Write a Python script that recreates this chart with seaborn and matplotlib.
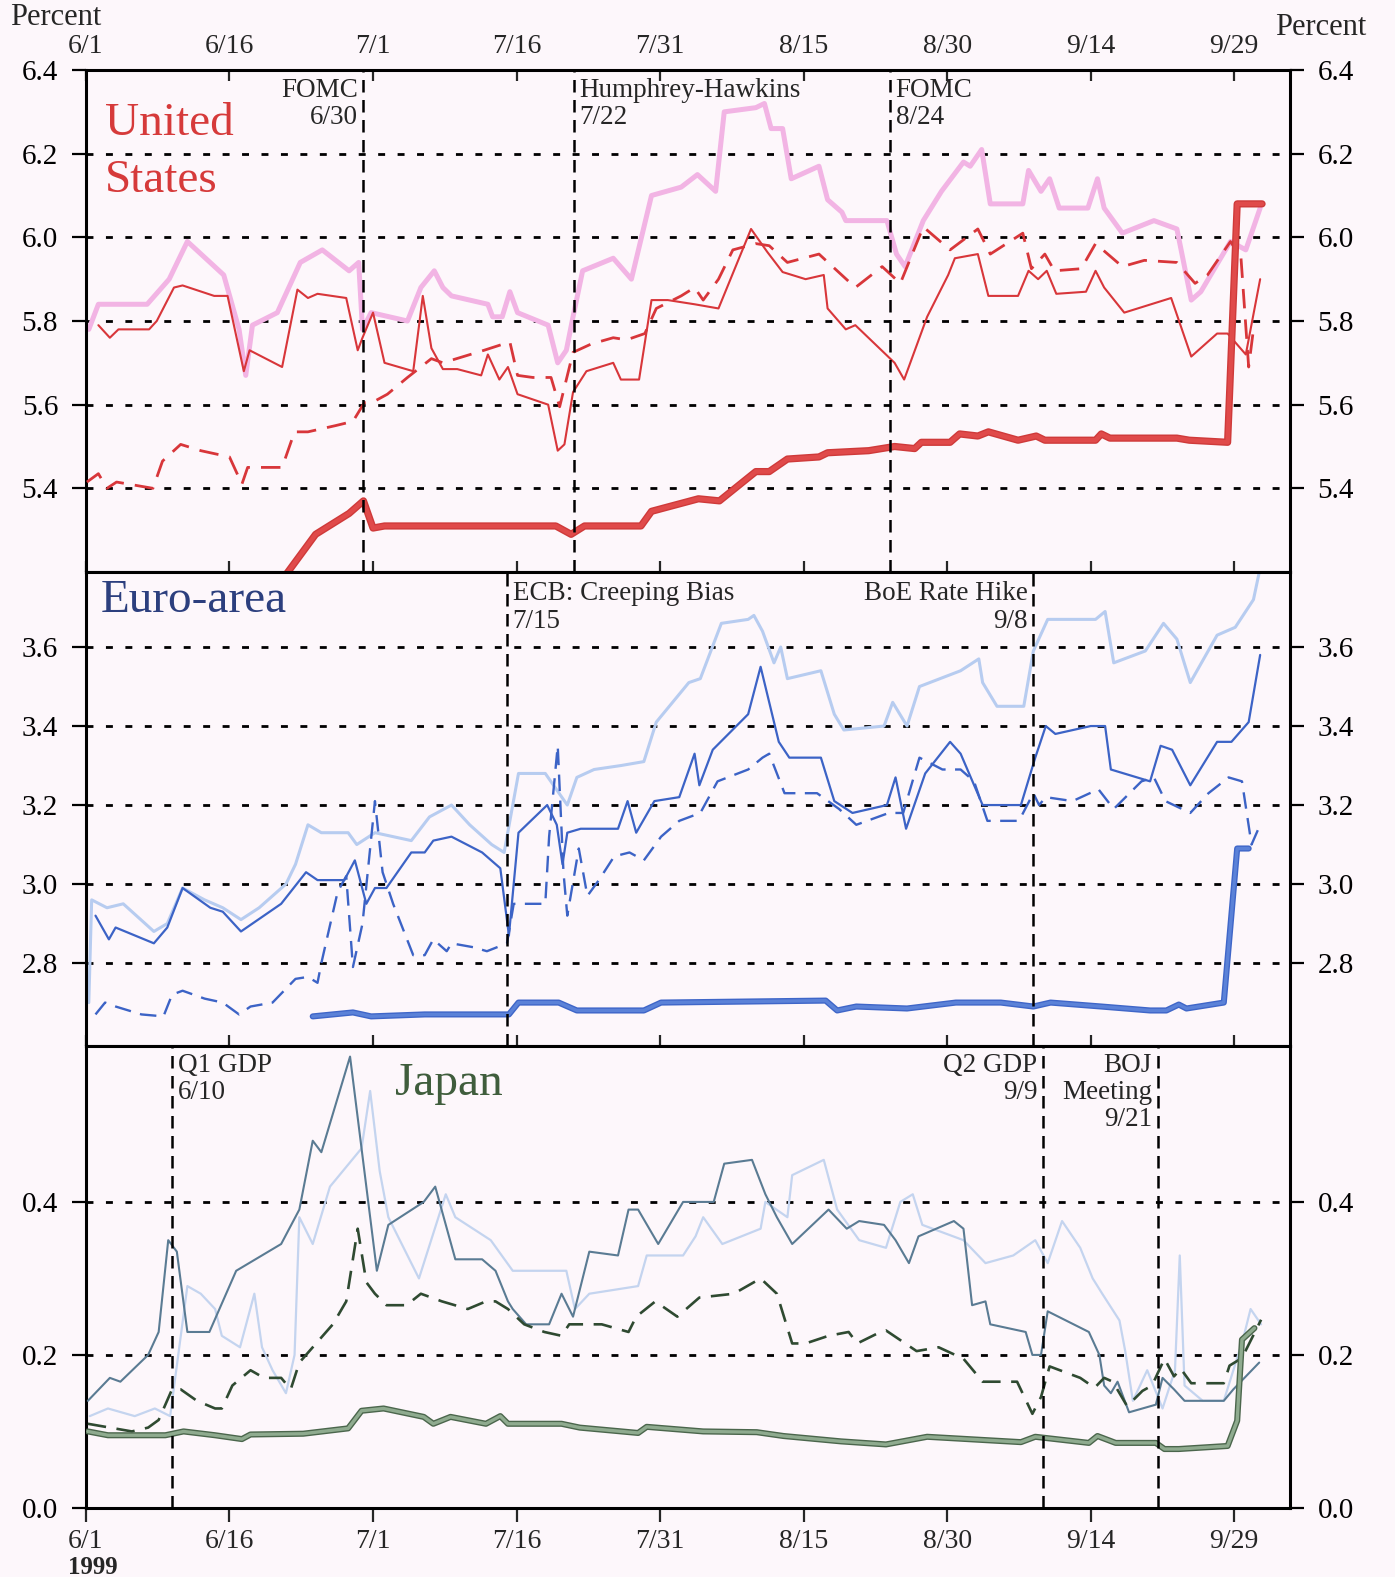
import pandas as pd
import seaborn as sns
import matplotlib.pyplot as plt
import matplotlib.patheffects as pe
from matplotlib.ticker import FormatStrFormatter

# x values are days after June 1, 1999
date_ticks = [0, 15, 30, 45, 60, 75, 90, 105, 120]
date_labels = ['6/1', '6/16', '7/1', '7/16', '7/31', '8/15', '8/30', '9/14', '9/29']

# ---- United States ----
us_pink_day = [0.3, 1.3, 6.4, 8.7, 10.6, 12.5, 14.4, 16.0, 16.7, 17.4, 20.0, 21.6, 22.4, 24.7, 27.5,
               28.5, 28.9, 29.8, 33.6, 35.0, 36.4, 37.3, 38.2, 42.0, 42.5, 43.5, 44.3, 45.1, 48.3, 49.3,
               50.2, 50.9, 51.9, 55.1, 57.0, 59.1, 62.2, 63.9, 65.8, 66.7, 70.0, 70.9, 71.6, 72.8, 73.7,
               76.6, 77.5, 79.0, 79.4, 83.7, 84.7, 85.6, 87.5, 89.4, 91.7, 92.4, 93.6, 94.5, 97.9, 98.5,
               99.8, 100.7, 101.7, 104.7, 105.7, 106.4, 108.3, 111.6, 114.0, 115.5, 116.5, 119.6, 121.2, 122.7]
us_pink = [5.78, 5.84, 5.84, 5.90, 5.99, 5.95, 5.91, 5.78, 5.67, 5.79, 5.82, 5.90, 5.94, 5.97, 5.92,
           5.94, 5.78, 5.82, 5.80, 5.88, 5.92, 5.88, 5.86, 5.84, 5.81, 5.81, 5.87, 5.82, 5.79, 5.70,
           5.73, 5.81, 5.92, 5.95, 5.90, 6.10, 6.12, 6.15, 6.11, 6.30, 6.31, 6.32, 6.26, 6.26, 6.14,
           6.17, 6.09, 6.06, 6.04, 6.04, 5.96, 5.93, 6.04, 6.11, 6.18, 6.17, 6.21, 6.08, 6.08, 6.16,
           6.11, 6.14, 6.07, 6.07, 6.14, 6.07, 6.01, 6.04, 6.02, 5.85, 5.87, 5.99, 5.97, 6.07]

us_solid_day = [1.3, 2.5, 3.4, 6.6, 7.4, 9.2, 10.1, 13.4, 14.8, 16.5, 17.1, 20.5, 22.1, 23.2, 24.2,
                27.2, 28.4, 28.9, 30.0, 31.2, 34.2, 35.2, 36.1, 37.3, 38.8, 41.3, 42.0, 43.2, 44.1, 45.1,
                48.3, 49.3, 50.0, 50.9, 52.3, 55.1, 55.9, 57.8, 59.1, 60.8, 63.6, 66.1, 69.5, 71.2, 72.8,
                75.2, 77.1, 77.5, 79.4, 80.4, 84.5, 85.5, 87.9, 90.1, 90.8, 93.2, 94.3, 97.4, 98.5, 99.5,
                100.4, 101.4, 104.5, 105.5, 106.4, 108.5, 113.4, 115.5, 118.2, 119.3, 121.2, 122.7]
us_solid = [5.79, 5.76, 5.78, 5.78, 5.80, 5.88, 5.885, 5.86, 5.86, 5.68, 5.73, 5.69, 5.875, 5.855, 5.865,
            5.855, 5.73, 5.76, 5.82, 5.70, 5.68, 5.86, 5.735, 5.685, 5.685, 5.67, 5.72, 5.66, 5.69, 5.625,
            5.60, 5.49, 5.505, 5.63, 5.68, 5.70, 5.66, 5.66, 5.85, 5.85, 5.84, 5.83, 6.02, 5.965, 5.917,
            5.90, 5.91, 5.83, 5.78, 5.79, 5.70, 5.66, 5.81, 5.91, 5.95, 5.96, 5.86, 5.86, 5.92, 5.90,
            5.92, 5.865, 5.87, 5.92, 5.88, 5.82, 5.855, 5.715, 5.77, 5.77, 5.72, 5.90]

us_dash_day = [0.1, 1.3, 2.2, 3.2, 7.0, 8.0, 9.9, 12.0, 15.0, 16.3, 16.9, 20.5, 21.8, 23.2, 26.1,
               27.9, 29.1, 30.3, 31.5, 33.6, 36.1, 37.3, 41.6, 44.3, 45.1, 46.7, 48.6, 49.5, 50.9, 52.8,
               55.1, 56.5, 58.4, 59.6, 62.2, 63.6, 64.5, 66.1, 67.6, 70.0, 71.4, 73.3, 76.6, 78.5, 80.4,
               83.2, 85.1, 87.5, 90.3, 93.2, 94.5, 97.9, 98.8, 100.2, 101.2, 104.0, 105.5, 108.3, 110.6, 114.0,
               115.9, 117.2, 119.6, 120.7, 121.5, 122.0]
us_dash = [5.415, 5.435, 5.40, 5.415, 5.40, 5.465, 5.505, 5.49, 5.475, 5.41, 5.45, 5.45, 5.535, 5.535, 5.55,
           5.56, 5.605, 5.61, 5.625, 5.665, 5.71, 5.70, 5.73, 5.75, 5.67, 5.665, 5.665, 5.595, 5.725, 5.745,
           5.76, 5.755, 5.77, 5.83, 5.86, 5.88, 5.85, 5.90, 5.97, 5.985, 5.98, 5.94, 5.96, 5.92, 5.88,
           5.93, 5.89, 6.025, 5.97, 6.02, 5.96, 6.01, 5.925, 5.96, 5.92, 5.925, 5.985, 5.93, 5.945, 5.94,
           5.89, 5.91, 5.99, 5.95, 5.69, 5.78]

us_thick_day = [19.5, 24.0, 27.5, 29.0, 30.0, 31.2, 49.1, 50.7, 52.1, 58.0, 59.1, 64.0, 66.2, 70.0, 71.4,
                73.3, 76.6, 77.5, 81.8, 84.5, 86.6, 87.3, 90.3, 91.3, 93.2, 94.3, 97.4, 99.3, 100.2, 105.5,
                106.1, 107.0, 114.0, 115.3, 119.3, 120.3, 122.9]
us_thick = [5.15, 5.29, 5.34, 5.37, 5.305, 5.31, 5.31, 5.29, 5.31, 5.31, 5.345, 5.375, 5.37, 5.44, 5.44,
            5.47, 5.475, 5.485, 5.49, 5.50, 5.495, 5.51, 5.51, 5.53, 5.525, 5.535, 5.515, 5.525, 5.515, 5.515,
            5.53, 5.52, 5.52, 5.515, 5.51, 6.08, 6.08]

# ---- Euro-area ----
eu_light_day = [0.3, 0.6, 2.2, 3.9, 7.1, 8.5, 10.1, 12.4, 14.3, 16.2, 18.1, 20.9, 21.9, 23.2, 24.6,
                27.4, 28.3, 30.2, 34.0, 35.9, 38.2, 40.1, 42.4, 43.7, 45.2, 48.0, 50.3, 51.3, 53.1, 55.9,
                58.3, 59.6, 63.0, 64.2, 66.4, 69.2, 69.8, 70.7, 71.9, 72.6, 73.3, 76.8, 78.2, 79.2, 83.4,
                84.3, 85.8, 87.1, 91.4, 93.3, 93.7, 95.2, 98.0, 99.0, 100.5, 105.5, 106.5, 107.4, 110.7, 112.6,
                114.0, 115.4, 118.2, 120.1, 122.0, 122.7]
eu_light = [2.70, 2.96, 2.94, 2.95, 2.88, 2.90, 2.99, 2.96, 2.94, 2.91, 2.94, 3.00, 3.05, 3.15, 3.13,
            3.13, 3.10, 3.13, 3.11, 3.17, 3.20, 3.15, 3.10, 3.08, 3.28, 3.28, 3.20, 3.27, 3.29, 3.30,
            3.31, 3.41, 3.51, 3.52, 3.66, 3.67, 3.68, 3.64, 3.56, 3.60, 3.52, 3.54, 3.43, 3.39, 3.40,
            3.46, 3.40, 3.50, 3.54, 3.57, 3.51, 3.45, 3.45, 3.59, 3.67, 3.67, 3.69, 3.56, 3.59, 3.66,
            3.62, 3.51, 3.63, 3.65, 3.72, 3.80]

eu_solid_day = [1.0, 2.4, 3.1, 7.1, 8.5, 10.1, 13.0, 14.3, 16.2, 20.4, 23.0, 24.2, 27.0, 28.1, 29.3,
                30.2, 31.4, 34.0, 35.4, 36.3, 38.2, 41.4, 43.3, 44.2, 45.2, 48.2, 49.2, 49.8, 50.3, 51.7,
                55.6, 56.6, 57.5, 59.4, 62.0, 63.6, 64.1, 65.5, 69.2, 70.5, 72.4, 73.5, 76.8, 78.2, 80.1,
                83.7, 84.6, 85.7, 87.7, 90.3, 91.4, 93.7, 97.7, 99.2, 100.3, 101.3, 105.0, 106.5, 107.1, 111.2,
                112.3, 113.5, 115.4, 118.2, 119.7, 121.5, 122.7]
eu_solid = [2.92, 2.86, 2.89, 2.85, 2.89, 2.99, 2.94, 2.93, 2.88, 2.95, 3.03, 3.01, 3.01, 3.06, 2.95,
            2.99, 2.99, 3.08, 3.08, 3.11, 3.12, 3.08, 3.04, 2.87, 3.13, 3.20, 3.15, 3.05, 3.13, 3.14,
            3.14, 3.21, 3.13, 3.21, 3.22, 3.33, 3.25, 3.34, 3.43, 3.55, 3.36, 3.32, 3.32, 3.21, 3.18,
            3.20, 3.27, 3.14, 3.28, 3.36, 3.33, 3.20, 3.20, 3.32, 3.40, 3.38, 3.40, 3.40, 3.29, 3.26,
            3.35, 3.34, 3.25, 3.36, 3.36, 3.41, 3.58]

eu_dash_day = [1.0, 2.0, 3.1, 5.8, 8.1, 9.0, 10.1, 12.4, 14.3, 16.0, 17.2, 19.5, 21.9, 23.2, 24.2,
               24.6, 26.3, 27.2, 27.9, 28.9, 30.2, 31.0, 32.1, 34.2, 35.4, 36.3, 37.7, 38.2, 40.5, 41.9,
               44.0, 44.7, 48.0, 48.4, 49.3, 49.9, 50.3, 51.5, 52.4, 53.6, 55.2, 56.8, 58.3, 60.1, 62.0,
               64.2, 66.0, 69.2, 70.7, 71.4, 73.0, 76.4, 78.7, 80.5, 83.9, 85.4, 87.1, 89.5, 91.4, 92.8,
               94.2, 97.5, 99.0, 99.6, 100.3, 103.1, 105.8, 107.4, 110.3, 111.6, 112.8, 115.4, 117.3, 119.4, 120.8,
               121.8, 122.7]
eu_dash = [2.67, 2.70, 2.69, 2.67, 2.665, 2.72, 2.73, 2.71, 2.70, 2.67, 2.69, 2.70, 2.76, 2.765, 2.75,
           2.80, 2.98, 3.02, 2.79, 2.90, 3.21, 3.03, 2.95, 2.82, 2.82, 2.86, 2.83, 2.85, 2.84, 2.83,
           2.85, 2.95, 2.95, 3.12, 3.35, 3.03, 2.92, 3.09, 2.97, 3.01, 3.07, 3.08, 3.06, 3.12, 3.16,
           3.18, 3.26, 3.29, 3.32, 3.33, 3.23, 3.23, 3.19, 3.15, 3.18, 3.18, 3.32, 3.29, 3.29, 3.26,
           3.16, 3.16, 3.23, 3.20, 3.22, 3.21, 3.24, 3.19, 3.26, 3.27, 3.21, 3.18, 3.23, 3.27, 3.26,
           3.10, 3.15]

eu_thick_day = [23.7, 27.9, 29.8, 35.4, 44.2, 45.2, 49.4, 51.3, 58.3, 60.1, 77.3, 78.5, 80.5, 85.8, 90.9,
                95.6, 99.0, 100.8, 106.1, 111.2, 112.9, 114.2, 115.0, 118.9, 120.3, 121.5]
eu_thick = [2.665, 2.675, 2.665, 2.67, 2.67, 2.70, 2.70, 2.68, 2.68, 2.70, 2.705, 2.68, 2.69, 2.685, 2.70,
            2.70, 2.69, 2.70, 2.69, 2.68, 2.68, 2.695, 2.685, 2.70, 3.09, 3.09]

# ---- Japan ----
jp_light_day = [0.4, 2.3, 5.1, 7.2, 8.8, 10.6, 12.0, 13.5, 14.2, 16.1, 17.6, 18.4, 19.5, 20.9, 21.8,
                22.3, 23.7, 25.5, 28.8, 29.7, 30.7, 31.6, 34.8, 37.6, 38.6, 42.3, 44.6, 50.2, 51.1, 52.6,
                57.7, 58.6, 62.4, 63.7, 64.5, 66.5, 70.5, 71.0, 73.3, 73.8, 77.1, 78.5, 80.8, 83.6, 85.1,
                86.4, 87.4, 91.7, 94.0, 96.9, 99.2, 100.5, 102.0, 103.9, 105.2, 106.2, 108.0, 108.6, 109.4, 110.9,
                112.5, 113.8, 114.3, 114.8, 116.7, 118.9, 120.9, 121.7, 122.8]
jp_light = [0.12, 0.13, 0.12, 0.13, 0.12, 0.29, 0.28, 0.26, 0.225, 0.21, 0.28, 0.21, 0.18, 0.15, 0.20,
            0.38, 0.345, 0.42, 0.47, 0.545, 0.44, 0.38, 0.30, 0.41, 0.38, 0.35, 0.31, 0.31, 0.26, 0.28,
            0.29, 0.33, 0.33, 0.355, 0.38, 0.345, 0.365, 0.40, 0.38, 0.435, 0.455, 0.39, 0.35, 0.34, 0.40,
            0.41, 0.37, 0.35, 0.32, 0.33, 0.35, 0.32, 0.375, 0.34, 0.30, 0.28, 0.245, 0.205, 0.14, 0.18,
            0.13, 0.18, 0.33, 0.16, 0.14, 0.14, 0.22, 0.26, 0.24]

jp_solid_day = [0.2, 2.5, 3.6, 6.5, 7.6, 8.6, 9.5, 10.6, 12.9, 15.7, 20.4, 22.3, 23.7, 24.6, 27.6,
                30.4, 31.6, 35.3, 36.5, 38.6, 41.4, 42.8, 44.1, 44.6, 46.0, 48.4, 49.7, 50.9, 52.6, 55.6,
                56.7, 57.7, 59.8, 62.4, 65.6, 66.7, 69.6, 71.0, 72.2, 73.8, 77.6, 79.5, 80.8, 83.4, 84.6,
                86.0, 87.0, 90.7, 91.7, 92.6, 94.0, 94.5, 98.2, 98.9, 99.8, 100.5, 104.8, 105.9, 106.4, 107.1,
                107.8, 109.0, 111.8, 112.5, 113.7, 114.8, 118.9, 119.9, 122.6]
jp_solid = [0.14, 0.17, 0.165, 0.20, 0.23, 0.35, 0.335, 0.23, 0.23, 0.31, 0.345, 0.39, 0.48, 0.465, 0.59,
            0.31, 0.37, 0.40, 0.42, 0.325, 0.325, 0.31, 0.27, 0.26, 0.24, 0.24, 0.28, 0.25, 0.335, 0.33,
            0.39, 0.39, 0.345, 0.40, 0.40, 0.45, 0.455, 0.41, 0.38, 0.345, 0.39, 0.365, 0.375, 0.37, 0.35,
            0.32, 0.355, 0.375, 0.365, 0.265, 0.27, 0.24, 0.23, 0.20, 0.20, 0.257, 0.23, 0.20, 0.16, 0.15,
            0.165, 0.125, 0.135, 0.17, 0.155, 0.14, 0.14, 0.155, 0.19]

jp_dash_day = [0.2, 4.8, 6.5, 7.6, 9.0, 9.9, 11.6, 13.5, 14.2, 15.3, 17.2, 18.6, 20.4, 21.4, 22.3,
               23.7, 25.8, 27.2, 28.4, 29.3, 30.2, 31.4, 33.5, 35.0, 37.2, 39.9, 41.8, 42.8, 44.1, 45.8,
               47.9, 49.7, 50.5, 53.9, 56.7, 57.5, 59.5, 61.8, 64.1, 67.7, 70.5, 72.2, 73.8, 75.2, 76.4,
               77.6, 79.7, 80.6, 82.7, 83.6, 86.8, 89.1, 91.7, 93.7, 97.3, 98.9, 99.8, 100.7, 103.9, 105.4,
               106.4, 107.3, 108.8, 110.4, 111.4, 112.7, 113.7, 114.4, 115.5, 118.9, 119.5, 120.8, 122.8]
jp_dash = [0.11, 0.10, 0.105, 0.115, 0.155, 0.155, 0.14, 0.13, 0.13, 0.16, 0.18, 0.17, 0.17, 0.155, 0.19,
           0.21, 0.24, 0.27, 0.365, 0.295, 0.28, 0.265, 0.265, 0.28, 0.27, 0.26, 0.27, 0.27, 0.26, 0.24,
           0.23, 0.225, 0.24, 0.24, 0.23, 0.25, 0.27, 0.25, 0.275, 0.28, 0.30, 0.28, 0.215, 0.215, 0.22,
           0.225, 0.23, 0.215, 0.228, 0.232, 0.205, 0.21, 0.195, 0.165, 0.165, 0.123, 0.145, 0.185, 0.17, 0.157,
           0.17, 0.165, 0.133, 0.153, 0.16, 0.195, 0.172, 0.182, 0.163, 0.163, 0.186, 0.196, 0.246]

jp_thick_day = [0.2, 2.3, 8.3, 10.2, 13.5, 16.3, 17.2, 22.7, 27.4, 28.8, 31.1, 35.3, 36.3, 38.1, 41.8,
                43.3, 44.1, 49.7, 51.6, 57.7, 58.6, 64.5, 70.1, 72.9, 78.9, 83.6, 87.9, 97.7, 99.2, 104.8,
                105.7, 107.6, 111.8, 112.7, 114.2, 119.3, 120.3, 120.8, 122.1]
jp_thick = [0.10, 0.095, 0.095, 0.10, 0.095, 0.09, 0.096, 0.097, 0.104, 0.127, 0.13, 0.119, 0.11, 0.119, 0.11,
            0.12, 0.11, 0.11, 0.105, 0.098, 0.106, 0.10, 0.099, 0.094, 0.087, 0.083, 0.093, 0.086, 0.093, 0.085,
            0.094, 0.085, 0.085, 0.077, 0.077, 0.081, 0.114, 0.22, 0.235]

# event markers (day, label)
us_event_days = [29, 51, 84]
us_event_text = ['FOMC\n6/30', 'Humphrey-Hawkins\n7/22', 'FOMC\n8/24']
eu_event_days = [44, 99]
eu_event_text = ['ECB: Creeping Bias\n7/15', 'BoE Rate Hike\n9/8']
jp_event_days = [9, 100, 112]
jp_event_text = ['Q1 GDP\n6/10', 'Q2 GDP\n9/9', 'BOJ\nMeeting\n9/21']


def draw_line(ax, days, vals, color, lw, dashed=False, edge=None, z=3):
    df = pd.DataFrame({'day': days, 'pct': vals})
    kw = dict(color=color, lw=lw, zorder=z)
    if dashed:
        kw['linestyle'] = (0, (7, 4))
    if edge:
        kw['path_effects'] = [pe.Stroke(linewidth=lw + 2, foreground=edge), pe.Normal()]
    sns.lineplot(data=df, x='day', y='pct', ax=ax, estimator=None, sort=False, **kw)


def main() -> None:
    sns.set_theme(style='white')
    plt.rcParams['font.family'] = ['Liberation Serif', 'DejaVu Serif']
    bg = '#fdf7fb'

    fig = plt.figure(figsize=(13.95, 15.77), dpi=100, facecolor=bg)
    left, width = 0.0616, 0.863
    ax_us = fig.add_axes([left, 0.6373, width, 0.3183])
    ax_eu = fig.add_axes([left, 0.3367, width, 0.3006])
    ax_jp = fig.add_axes([left, 0.0438, width, 0.2930])

    # United States
    draw_line(ax_us, us_pink_day, us_pink, '#f2b4e4', 3.6, z=2)
    draw_line(ax_us, us_solid_day, us_solid, '#d8363a', 1.5)
    draw_line(ax_us, us_dash_day, us_dash, '#d8363a', 2.0, dashed=True)
    draw_line(ax_us, us_thick_day, us_thick, '#e04a4a', 3.2, edge='#cf3a3a')

    # Euro-area
    draw_line(ax_eu, eu_light_day, eu_light, '#b7ccf0', 2.2, z=2)
    draw_line(ax_eu, eu_solid_day, eu_solid, '#3c63c6', 1.6)
    draw_line(ax_eu, eu_dash_day, eu_dash, '#3c63c6', 1.7, dashed=True)
    draw_line(ax_eu, eu_thick_day, eu_thick, '#5b82d8', 2.4, edge='#3f66c8')

    # Japan
    draw_line(ax_jp, jp_light_day, jp_light, '#c4d4ef', 1.6, z=2)
    draw_line(ax_jp, jp_solid_day, jp_solid, '#5a7b93', 1.5)
    draw_line(ax_jp, jp_dash_day, jp_dash, '#2f4a31', 1.9, dashed=True)
    draw_line(ax_jp, jp_thick_day, jp_thick, '#8fab8f', 2.4, edge='#4b664c')

    setup = [
        (ax_us, (5.2, 6.4), [5.4, 5.6, 5.8, 6.0, 6.2, 6.4], [5.4, 5.6, 5.8, 6.0, 6.2]),
        (ax_eu, (2.59, 3.79), [2.8, 3.0, 3.2, 3.4, 3.6], [2.8, 3.0, 3.2, 3.4, 3.6]),
        (ax_jp, (0.0, 0.604), [0.0, 0.2, 0.4], [0.2, 0.4]),
    ]
    for ax, ylim, yt, grid in setup:
        ax.set_facecolor(bg)
        ax.set_xlim(0, 125.8)
        ax.set_ylim(*ylim)
        ax.set_yticks(yt)
        ax.yaxis.set_major_formatter(FormatStrFormatter('%.1f'))
        ax.set_xticks(date_ticks)
        ax.set(xlabel='', ylabel='')
        ax.tick_params(axis='y', left=True, right=True, labelleft=True, labelright=True,
                       direction='out', length=10, width=1.6, labelsize=21, pad=10, colors='black')
        for g in grid:
            ax.axhline(g, color='black', lw=2.0, linestyle=(0, (2.5, 4.5)), zorder=1)
        for s in ax.spines.values():
            s.set_color('black')
            s.set_linewidth(2.2)
            s.set_visible(True)

    ax_us.set_xticklabels(date_labels)
    ax_us.tick_params(axis='x', top=True, bottom=True, labeltop=True, labelbottom=False,
                      direction='in', length=8, width=1.6, labelsize=20, pad=8)
    ax_eu.tick_params(axis='x', top=False, bottom=True, labelbottom=False,
                      direction='in', length=8, width=1.6)
    ax_jp.set_xticklabels(date_labels)
    ax_jp.tick_params(axis='x', bottom=True, labelbottom=True, direction='out',
                      length=10, width=1.6, labelsize=20, pad=5)
    ax_jp.text(-1.9, -0.128, '1999', transform=ax_jp.get_xaxis_transform(), ha='left', va='center',
               fontsize=18, fontweight='bold')

    # event lines and labels
    events = [
        (ax_us, us_event_days, us_event_text, ['right', 'left', 'left'], 0.985),
        (ax_eu, eu_event_days, eu_event_text, ['left', 'right'], 0.98),
        (ax_jp, jp_event_days, jp_event_text, ['left', 'right', 'right'], 0.985),
    ]
    for ax, days, texts, sides, ytop in events:
        for d, t, side in zip(days, texts, sides):
            ax.axvline(d, color='black', lw=1.8, linestyle=(0, (5, 3)), zorder=4)
            off = 0.6 if side == 'left' else -0.6
            ax.text(d + off, ytop, t, transform=ax.get_xaxis_transform(), ha=side, va='top',
                    fontsize=19.5, linespacing=1.12, zorder=5)

    ax_us.text(0.016, 0.870, 'United', transform=ax_us.transAxes, ha='left', va='baseline',
               fontsize=34, color='#d63a3a')
    ax_us.text(0.016, 0.757, 'States', transform=ax_us.transAxes, ha='left', va='baseline',
               fontsize=34, color='#d63a3a')
    ax_eu.text(0.012, 0.985, 'Euro-area', transform=ax_eu.transAxes, ha='left', va='top',
               fontsize=34, color='#2c3f7e')
    ax_jp.text(0.257, 0.965, 'Japan', transform=ax_jp.transAxes, ha='left', va='top',
               fontsize=34, color='#3f5d3c')

    fig.text(0.040, 0.998, 'Percent', ha='center', va='top', fontsize=22)
    fig.text(0.947, 0.992, 'Percent', ha='center', va='top', fontsize=22)

    fig.savefig('out.png', dpi=100, facecolor=bg)


if __name__ == '__main__':
    main()
